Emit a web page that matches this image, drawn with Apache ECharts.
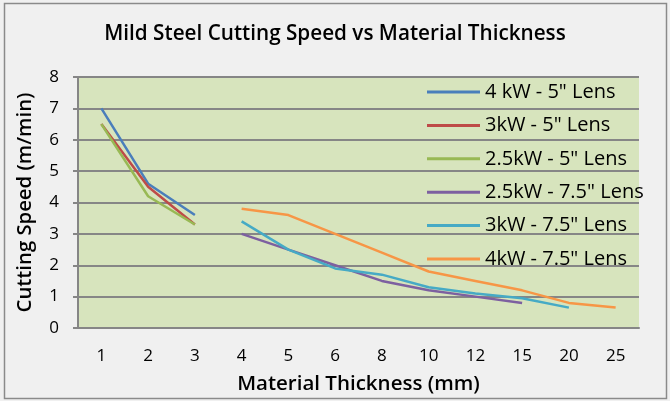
<!DOCTYPE html>
<html><head><meta charset="utf-8">
<script src="https://cdn.jsdelivr.net/npm/echarts@6/dist/echarts.min.js"></script>
<style>html,body{margin:0;padding:0;background:#f0f0f0}#c{width:670px;height:401px}</style>
</head><body><div id="c"></div>
<script>
const categories = ['1','2','3','4','5','6','8','10','12','15','20','25'];
const seriesNames = ['4 kW - 5" Lens','3kW - 5" Lens','2.5kW - 5" Lens','2.5kW - 7.5" Lens','3kW - 7.5" Lens','4kW - 7.5" Lens'];
const kw4_5 = [7.0, 4.6, 3.6, null, null, null, null, null, null, null, null, null];
const kw3_5 = [6.5, 4.5, 3.3, null, null, null, null, null, null, null, null, null];
const kw25_5 = [6.5, 4.2, 3.3, null, null, null, null, null, null, null, null, null];
const kw25_75 = [null, null, null, 3.0, 2.5, 2.0, 1.5, 1.2, 1.0, 0.8, null, null];
const kw3_75 = [null, null, null, 3.4, 2.5, 1.9, 1.7, 1.3, 1.1, 0.95, 0.65, null];
const kw4_75 = [null, null, null, 3.8, 3.6, 3.0, 2.4, 1.8, 1.5, 1.2, 0.8, 0.65];
const colors = ['#4a7ebb','#be4b48','#98b954','#7d60a0','#46aac5','#f79646'];
const allData = [kw4_5, kw3_5, kw25_5, kw25_75, kw3_75, kw4_75];

const FONT = 'Open Sans';
const chart = echarts.init(document.getElementById('c'));
chart.setOption({
  backgroundColor: '#f0f0f0',
  animation: false,
  graphic: [{type:'rect', shape:{x:4.5,y:3.5,width:662,height:395}, style:{fill:'none', stroke:'#8a8a8a', lineWidth:1.5}, z:-1}],
  title: {text:'Mild Steel Cutting Speed vs Material Thickness', left:'center', top:19,
    textStyle:{fontFamily:FONT, fontSize:20.7, fontWeight:600, color:'#000'}},
  grid: {left:78, right:31, top:77, bottom:73, show:true, backgroundColor:'#d7e4bd', borderWidth:0},
  legend: {orient:'vertical', left:427, top:81, padding:0, itemWidth:53, itemHeight:3, icon:'rect', itemGap:11.4,
    textStyle:{fontFamily:FONT, fontSize:20, color:'#000', lineHeight:22, padding:[0,0,0,0]},
    data: seriesNames},
  xAxis: {type:'category', data:categories, name:'Material Thickness (mm)', nameLocation:'middle', nameGap:46,
    nameTextStyle:{fontFamily:FONT, fontSize:20.5, fontWeight:600, color:'#000'},
    axisLine:{lineStyle:{color:'#868686', width:2}}, axisTick:{length:5, lineStyle:{color:'#868686', width:2}},
    axisLabel:{fontFamily:FONT, fontSize:17, color:'#000', margin:20}},
  yAxis: {type:'value', min:0, max:8, interval:1, name:'Cutting Speed (m/min)', nameLocation:'middle', nameGap:43,
    nameTextStyle:{fontFamily:FONT, fontSize:20.3, fontWeight:600, color:'#000'},
    axisLine:{show:true, lineStyle:{color:'#868686', width:2}}, axisTick:{show:true, length:5, lineStyle:{color:'#868686', width:2}},
    splitLine:{lineStyle:{color:'#868686', width:2}},
    axisLabel:{fontFamily:FONT, fontSize:17, color:'#000', margin:19}},
  series: seriesNames.map((n,i)=>({name:n, type:'line', data:allData[i], symbol:'none', connectNulls:false,
    lineStyle:{color:colors[i], width:2.5}, itemStyle:{color:colors[i]}}))
});
</script></body></html>
